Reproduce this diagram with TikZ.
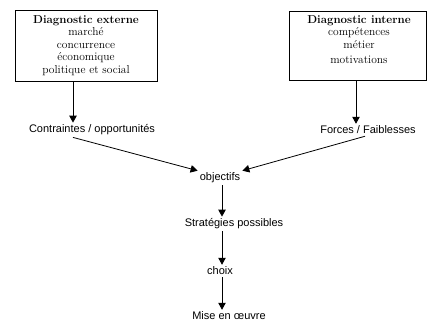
\documentclass[tikz,border=0pt]{standalone}
\usepackage{fontspec}
\newfontfamily\arialfont{Liberation Sans}
\usetikzlibrary{arrows.meta}

\begin{document}
\begin{tikzpicture}[x=1pt,y=-1pt,>={Triangle[length=7pt,width=7.5pt]}]
\tikzset{
  diagbox/.style={draw,line width=0.8pt,inner sep=0pt},
  boxtext/.style={align=center,inner sep=0pt,anchor=north,
    font=\fontsize{11.5}{12.5}\selectfont\addfontfeatures{LetterSpace=6}},
  etape/.style={font=\arialfont\fontsize{11}{13}\selectfont,inner sep=2pt},
  fleche/.style={->,line width=0.8pt}
}
\useasboundingbox (0,0) rectangle (427,322);
% les deux diagnostics
\node[diagbox,minimum width=142pt,minimum height=71pt] (ext) at (86,45.5) {};
\node[boxtext] (extt) at (86,15) {\textbf{Diagnostic externe}\\marché\\concurrence\\économique\\politique et social};
\node[diagbox,minimum width=137pt,minimum height=69pt] (int) at (357.5,45.5) {};
\node[boxtext] (intt) at (359,15) {\textbf{Diagnostic interne}\\compétences\\métier\\[2.5pt]motivations};
% les etapes
\node[etape] (cont) at (92,130) {Contraintes / opportunités};
\node[etape] (forc) at (368,130) {Forces / Faiblesses};
\node[etape] (obj) at (220,178) {objectifs};
\node[etape] (strat) at (234,224) {Stratégies possibles};
\node[etape] (choix) at (220,271) {choix};
\node[etape] (mise) at (229,316) {Mise en œuvre};
% fleches
\draw[fleche] (ext.south -| 73,0) -- (cont.north -| 73,0);
\draw[fleche] (int.south -| 356,0) -- (forc.north -| 356,0);
\draw[fleche] (cont.south -| 73,0) -- (obj.north west);
\draw[fleche] (forc.south -| 365,0) -- (obj.north east);
\draw[fleche] (obj.south -| 222,0) -- (strat.north -| 222,0);
\draw[fleche] (strat.south -| 222,0) -- (choix.north -| 222,0);
\draw[fleche] (choix.south -| 222,0) -- (mise.north -| 222,0);
\end{tikzpicture}
\end{document}
